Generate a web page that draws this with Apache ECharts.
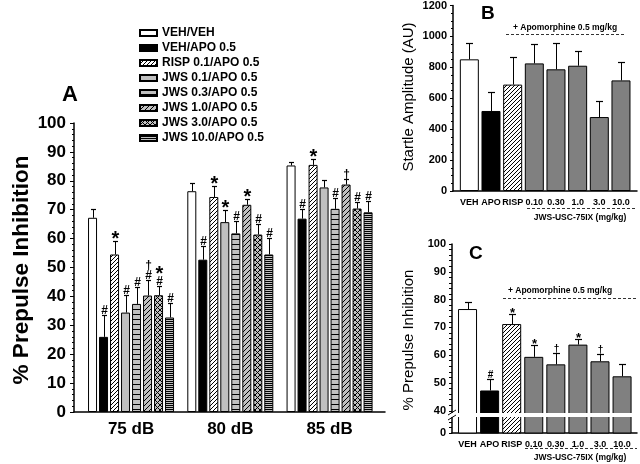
<!DOCTYPE html>
<html><head><meta charset="utf-8">
<script src="https://cdn.jsdelivr.net/npm/echarts@6/dist/echarts.min.js"></script>
<style>html,body{margin:0;padding:0;background:#fff}#c{width:640px;height:464px}</style>
</head><body><div id="c"></div>
<script>
// ---------- Panel A data ----------
const categoriesA = ['75 dB', '80 dB', '85 dB'];
const namesA = ['VEH/VEH', 'VEH/APO 0.5', 'RISP 0.1/APO 0.5', 'JWS 0.1/APO 0.5', 'JWS 0.3/APO 0.5', 'JWS 1.0/APO 0.5', 'JWS 3.0/APO 0.5', 'JWS 10.0/APO 0.5'];
const meanVehVeh = [67.2, 76.4, 85.3];
const semVehVeh = [3.1, 2.9, 1.2];
const sigVehVeh = ['', '', ''];
const meanVehApo = [26.0, 52.7, 66.9];
const semVehApo = [7.7, 4.6, 3.3];
const sigVehApo = ['#', '#', '#'];
const meanRisp = [54.5, 74.4, 85.5];
const semRisp = [4.8, 3.7, 2.1];
const sigRisp = ['*', '*', '*'];
const meanJws01 = [34.4, 65.7, 77.7];
const semJws01 = [6.1, 4.1, 2.7];
const sigJws01 = ['#', '*', ''];
const meanJws03 = [37.4, 61.8, 70.3];
const semJws03 = [6.0, 4.3, 3.8];
const sigJws03 = ['#', '#', '#'];
const meanJws10 = [40.3, 71.7, 78.7];
const semJws10 = [5.3, 2.0, 2.0];
const sigJws10 = ['#†', '*', '†'];
const meanJws30 = [40.4, 61.4, 70.4];
const semJws30 = [3.1, 3.6, 2.3];
const sigJws30 = ['#*', '#', '#'];
const meanJws100 = [32.7, 54.5, 69.1];
const semJws100 = [4.9, 5.8, 3.9];
const sigJws100 = ['#', '#', '#'];
const ticksA = [0, 10, 20, 30, 40, 50, 60, 70, 80, 90, 100];

// ---------- Panels B and C data ----------
const categoriesBC = ['VEH', 'APO', 'RISP', '0.10', '0.30', '1.0', '3.0', '10.0'];
const startleMean = [844, 513, 682, 818, 780, 803, 474, 709];
const startleSem = [107, 119, 175, 122, 169, 94, 103, 118];
const ppiMean = [76.6, 47.3, 71.2, 59.4, 56.7, 63.8, 57.8, 52.4];
const ppiSem = [2.4, 4.1, 3.6, 4.1, 4.2, 2.2, 2.7, 4.6];
const ppiSig = ['', '#', '*', '*', '†', '*', '†', ''];
const ppiBreakLabel = '0'; // bottom of the broken axis

const FONT = '"Liberation Sans", Arial, sans-serif';

function pattern(bg, draw, w, h) {
  const c = document.createElement('canvas');
  c.width = w; c.height = h;
  const g = c.getContext('2d');
  g.fillStyle = bg; g.fillRect(0, 0, w, h);
  g.strokeStyle = '#000'; g.lineWidth = 1;
  draw(g, w, h);
  return { image: c, repeat: 'repeat' };
}
function diag(g, w, h) {
  g.beginPath();
  g.moveTo(-1, h + 1); g.lineTo(w + 1, -1);
  g.moveTo(-1, 1); g.lineTo(1, -1);
  g.moveTo(w - 1, h + 1); g.lineTo(w + 1, h - 1);
  g.stroke();
}
function cross(g, w, h) {
  diag(g, w, h);
  g.beginPath();
  g.moveTo(-1, -1); g.lineTo(w + 1, h + 1);
  g.moveTo(w - 1, -1); g.lineTo(w + 1, 1);
  g.moveTo(-1, h - 1); g.lineTo(1, h + 1);
  g.stroke();
}
function horiz(g, w, h) {
  g.beginPath(); g.moveTo(0, h - 0.5); g.lineTo(w, h - 0.5); g.stroke();
}
const LG = '#c0c0c0';
const DG = '#808080';
const fillsA = [
  '#ffffff', '#000000',
  pattern('#ffffff', diag, 4, 4),
  LG,
  pattern(LG, horiz, 4, 5),
  pattern(LG, diag, 5, 5),
  pattern(LG, cross, 5, 5),
  pattern(LG, horiz, 4, 2)
];
const fillsBC = ['#ffffff', '#000000', pattern('#ffffff', diag, 4, 4), DG, DG, DG, DG, DG];

const meansA = [meanVehVeh, meanVehApo, meanRisp, meanJws01, meanJws03, meanJws10, meanJws30, meanJws100];
const semsA = [semVehVeh, semVehApo, semRisp, semJws01, semJws03, semJws10, semJws30, semJws100];
const sigsA = [sigVehVeh, sigVehApo, sigRisp, sigJws01, sigJws03, sigJws10, sigJws30, sigJws100];

function symbolEls(sig, cx, yTop, big) {
  const els = [];
  let y = yTop;
  for (const ch of sig) {
    let size, dy, h;
    if (ch === '*') { size = big ? 20 : 13; dy = big ? 9 : 6; h = big ? 10 : 7; }
    else if (ch === '#') { size = big ? 12 : 10; dy = 2; h = big ? 10 : 8; }
    else { size = big ? 12 : 10; dy = 2; h = big ? 11 : 9; }
    els.push({ type: 'text', x: cx, y: y + dy, style: { text: ch, textAlign: 'center', textVerticalAlign: 'bottom', font: 'bold ' + size + 'px ' + FONT, fill: '#000' } });
    y -= h;
  }
  return els;
}

function errSeries(xIdx, yIdx, means, sems, sigs, offset, cap, big, z) {
  return {
    type: 'custom', xAxisIndex: xIdx, yAxisIndex: yIdx, z: z || 5,
    data: means.map((m, i) => [i, m, sems[i]]),
    renderItem: function (params, api) {
      const i = api.value(0), m = api.value(1), e = api.value(2);
      const p0 = api.coord([i, m]);
      const p1 = api.coord([i, m + e]);
      const cx = Math.round(p0[0] + offset) + 0.5;
      const yt = Math.round(p1[1]) + 0.5;
      const children = [
        { type: 'line', shape: { x1: cx, y1: p0[1], x2: cx, y2: yt }, style: { stroke: '#000', lineWidth: 1 } },
        { type: 'line', shape: { x1: cx - cap, y1: yt, x2: cx + cap, y2: yt }, style: { stroke: '#000', lineWidth: 1.2 } }
      ].concat(symbolEls(sigs[params.dataIndex] || '', cx, yt - 1, big));
      return { type: 'group', children: children };
    }
  };
}

const BAR_W = 9, BAR_GAP = 2;
const series = [];
namesA.forEach((n, k) => {
  series.push({
    name: n, type: 'bar', xAxisIndex: 1, yAxisIndex: 1,
    barWidth: BAR_W, barGap: (BAR_GAP / BAR_W * 100) + '%',
    itemStyle: { color: fillsA[k], borderColor: '#000', borderWidth: 1 },
    data: meansA[k]
  });
});
namesA.forEach((n, k) => {
  series.push(errSeries(1, 1, meansA[k], semsA[k], sigsA[k], (k - 3.5) * (BAR_W + BAR_GAP), 2.5, true));
});
// Panel B
series.push({
  type: 'bar', xAxisIndex: 3, yAxisIndex: 3, barWidth: 19,
  data: startleMean.map((v, i) => ({ value: v, itemStyle: { color: fillsBC[i] } })),
  itemStyle: { borderColor: '#000', borderWidth: 1 }
});
series.push(errSeries(3, 3, startleMean, startleSem, startleMean.map(() => ''), 0, 3.5, false));
// Panel C
series.push({
  type: 'bar', xAxisIndex: 5, yAxisIndex: 5, barWidth: 19,
  data: ppiMean.map((v, i) => ({ value: v, itemStyle: { color: fillsBC[i] } })),
  itemStyle: { borderColor: '#000', borderWidth: 1 }
});
series.push(errSeries(5, 5, ppiMean, ppiSem, ppiSig, 0, 3.5, false));

function frameX(gi) {
  return { gridIndex: gi, type: 'value', min: 0, max: 1, axisLine: { show: true, lineStyle: { color: '#000', width: 1.5 } }, axisTick: { show: false }, axisLabel: { show: false }, splitLine: { show: false } };
}
function dataX(gi, cats, fs, margin) {
  return { gridIndex: gi, type: 'category', data: cats, axisLine: { show: false }, axisTick: { show: false }, splitLine: { show: false },
    axisLabel: { fontFamily: FONT, fontWeight: 'bold', fontSize: fs, color: '#000', margin: margin, interval: 0 } };
}
function hiddenY(gi, min, max) { return { gridIndex: gi, type: 'value', min: min, max: max, show: false, splitLine: { show: false } }; }

const option = {
  animation: false,
  backgroundColor: '#fff',
  grid: [
    { left: 74, top: 123, width: 311, height: 289 },
    { left: 81.4, top: 123, width: 297.8, height: 289 },
    { left: 453, top: 3.8, width: 184, height: 187.2 },
    { left: 458.5, top: 3.8, width: 173.3, height: 187.2 },
    { left: 452, top: 244, width: 185, height: 189 },
    { left: 456.5, top: 244, width: 176.6, height: 189 }
  ],
  legend: {
    data: namesA, orient: 'vertical', left: 139, top: 27, padding: 0, icon: 'rect',
    itemWidth: 17, itemHeight: 6, itemGap: 3,
    textStyle: { fontFamily: FONT, fontWeight: 'bold', fontSize: 12, color: '#000', lineHeight: 12 }
  },
  xAxis: [frameX(0), dataX(1, categoriesA, 17, 9), frameX(2), dataX(3, categoriesBC, 9, 7), frameX(4), dataX(5, categoriesBC, 9, 7)],
  yAxis: [
    { gridIndex: 0, type: 'value', min: ticksA[0], max: ticksA[ticksA.length - 1], interval: 10,
      axisLine: { show: true, lineStyle: { color: '#000', width: 1.5 } },
      axisTick: { show: true, length: 4, lineStyle: { color: '#000' } },
      minorTick: { show: true, splitNumber: 5, length: 2, lineStyle: { color: '#000' } },
      splitLine: { show: false }, minorSplitLine: { show: false },
      axisLabel: { fontFamily: FONT, fontWeight: 'bold', fontSize: 17, color: '#000', margin: 8 } },
    hiddenY(1, 0, 100),
    { gridIndex: 2, type: 'value', min: 0, max: 1200, interval: 200,
      axisLine: { show: true, lineStyle: { color: '#000', width: 1.5 } },
      axisTick: { show: true, length: 3, lineStyle: { color: '#000' } },
      minorTick: { show: true, splitNumber: 4, length: 2, lineStyle: { color: '#000' } },
      splitLine: { show: false }, minorSplitLine: { show: false },
      axisLabel: { fontFamily: FONT, fontWeight: 'bold', fontSize: 11, color: '#000', margin: 6, formatter: v => String(v) } },
    hiddenY(3, 0, 1200),
    { gridIndex: 4, type: 'value', min: 32, max: 100, interval: 2,
      axisLine: { show: true, lineStyle: { color: '#000', width: 1.5 } },
      axisTick: { show: true, length: 3, lineStyle: { color: '#000' } },
      splitLine: { show: false },
      axisLabel: { fontFamily: FONT, fontWeight: 'bold', fontSize: 11, color: '#000', margin: 6,
        formatter: v => v === 32 ? ppiBreakLabel : (v % 10 === 0 ? String(v) : '') } },
    hiddenY(5, 32, 100)
  ],
  series: series,
  graphic: [
    { type: 'text', left: 62, top: 84, style: { text: 'A', font: 'bold 22px ' + FONT, fill: '#000' } },
    { type: 'text', left: 481, top: 4, style: { text: 'B', font: 'bold 19px ' + FONT, fill: '#000' } },
    { type: 'text', left: 469, top: 244, style: { text: 'C', font: 'bold 19px ' + FONT, fill: '#000' } },
    { type: 'text', x: 22, y: 270, rotation: Math.PI / 2, style: { text: '% Prepulse Inhibition', font: 'bold 22.5px ' + FONT, fill: '#000', textAlign: 'center', textVerticalAlign: 'middle' } },
    { type: 'text', x: 409, y: 97, rotation: Math.PI / 2, style: { text: 'Startle Amplitude (AU)', font: '15px ' + FONT, fill: '#000', textAlign: 'center', textVerticalAlign: 'middle' } },
    { type: 'text', x: 409, y: 340, rotation: Math.PI / 2, style: { text: '% Prepulse Inhibition', font: '15px ' + FONT, fill: '#000', textAlign: 'center', textVerticalAlign: 'middle' } },
    // panel B annotations
    { type: 'text', x: 565, y: 28, style: { text: '+ Apomorphine 0.5 mg/kg', font: 'bold 8.5px ' + FONT, fill: '#000', textAlign: 'center', textVerticalAlign: 'middle' } },
    { type: 'line', shape: { x1: 506, y1: 34.5, x2: 624, y2: 34.5 }, style: { stroke: '#333', lineWidth: 1, lineDash: [3, 2] } },
    { type: 'line', shape: { x1: 527, y1: 208.5, x2: 637, y2: 208.5 }, style: { stroke: '#333', lineWidth: 1, lineDash: [3, 2] } },
    { type: 'text', x: 580, y: 218, style: { text: 'JWS-USC-75IX (mg/kg)', font: 'bold 8.5px ' + FONT, fill: '#000', textAlign: 'center', textVerticalAlign: 'middle' } },
    // panel C annotations
    { type: 'text', x: 560, y: 291, style: { text: '+ Apomorphine 0.5 mg/kg', font: 'bold 8.5px ' + FONT, fill: '#000', textAlign: 'center', textVerticalAlign: 'middle' } },
    { type: 'line', shape: { x1: 503, y1: 298.5, x2: 637, y2: 298.5 }, style: { stroke: '#333', lineWidth: 1, lineDash: [3, 2] } },
    { type: 'line', shape: { x1: 525, y1: 448.5, x2: 637, y2: 448.5 }, style: { stroke: '#333', lineWidth: 1, lineDash: [3, 2] } },
    { type: 'text', x: 580, y: 458, style: { text: 'JWS-USC-75IX (mg/kg)', font: 'bold 8.5px ' + FONT, fill: '#000', textAlign: 'center', textVerticalAlign: 'middle' } },
    // axis break in C
    { type: 'rect', z: 100, shape: { x: 449, y: 413, width: 190, height: 4 }, style: { fill: '#fff' } },
    { type: 'line', z: 101, shape: { x1: 448, y1: 415, x2: 456, y2: 410 }, style: { stroke: '#000', lineWidth: 1 } },
    { type: 'line', z: 101, shape: { x1: 448, y1: 420, x2: 456, y2: 415 }, style: { stroke: '#000', lineWidth: 1 } }
  ]
};
const chart = echarts.init(document.getElementById('c'), null, { renderer: 'canvas' });
chart.setOption(option);
</script></body></html>
